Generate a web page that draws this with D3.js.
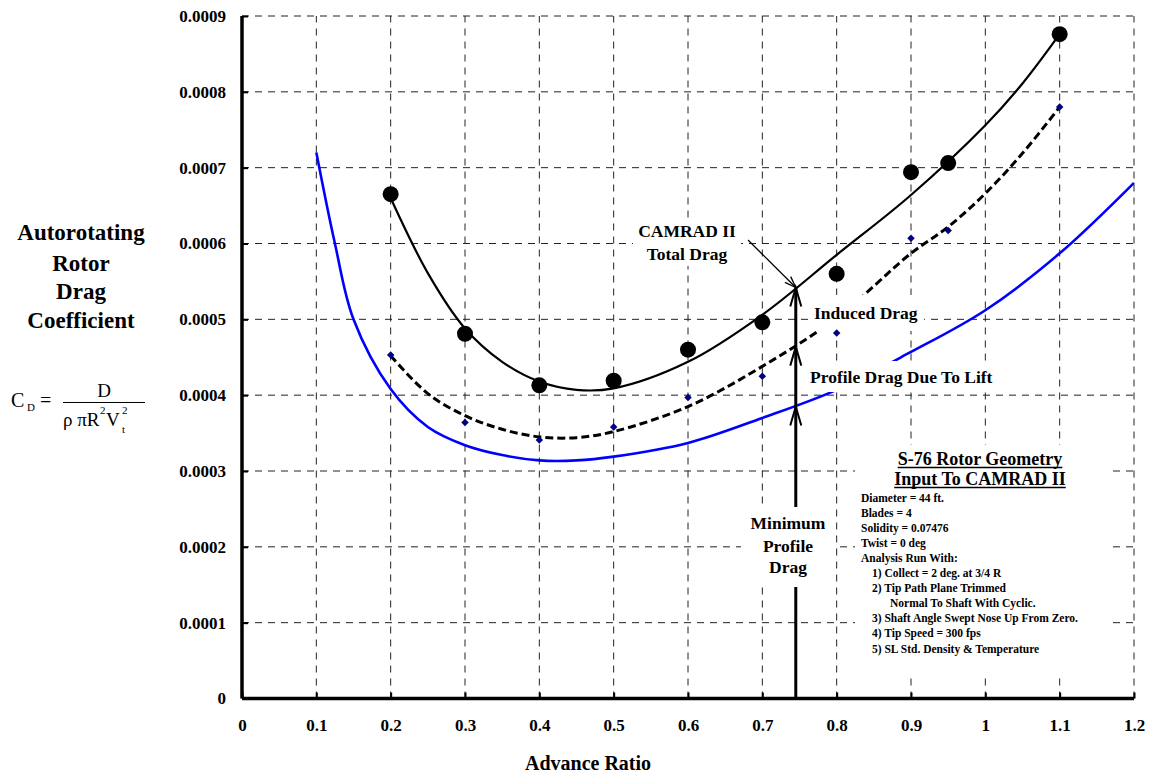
<!DOCTYPE html>
<html><head><meta charset="utf-8">
<script src="https://cdn.jsdelivr.net/npm/d3@7"></script>
<style>body{margin:0;background:#fff}svg{display:block}text{font-family:"Liberation Serif","Times New Roman",serif}</style>
</head><body><svg id="c" width="1149" height="776"></svg>
<script>
// ---- data ----
const markerMu = [0.2,0.3,0.4,0.5,0.6,0.7,0.8,0.9,0.95,1.1];
const totalDragPts = [0.000665,0.000481,0.000413,0.000419,0.00046,0.000496,0.00056,0.000694,0.000706,0.000876];
const inducedDragPts = [0.000453,0.000364,0.000341,0.000358,0.000397,0.000425,0.000482,0.000607,0.000617,0.00078];
const totalCurveMu = [0.2,0.25,0.3,0.35,0.4,0.45,0.5,0.6,0.7,0.8,0.9,1.0,1.05,1.1];
const totalCurve = [0.00066,0.000561,0.000488,0.000444,0.000418,0.000407,0.000409,0.000444,0.000506,0.000585,0.000664,0.000756,0.000811,0.000876];
const inducedCurveMu = [0.2,0.25,0.3,0.35,0.4,0.45,0.5,0.6,0.7,0.8,0.9,0.95,1.0,1.05,1.1];
const inducedCurve = [0.000452,0.000402,0.000373,0.000355,0.000345,0.000344,0.000352,0.000385,0.000438,0.000502,0.000587,0.000622,0.000666,0.000719,0.00078];
const profileCurveMu = [0.1,0.125,0.15,0.2,0.25,0.3,0.35,0.4,0.45,0.5,0.6,0.7,0.8,0.9,1.0,1.1,1.2];
const profileCurve = [0.00072,0.0006,0.0005,0.000408,0.000358,0.000334,0.000321,0.000314,0.000314,0.000319,0.000337,0.00037,0.000407,0.000457,0.000512,0.000587,0.00068];
const xTickValues = [0,0.1,0.2,0.3,0.4,0.5,0.6,0.7,0.8,0.9,1.0,1.1,1.2];
const xTickLabels = ["0","0.1","0.2","0.3","0.4","0.5","0.6","0.7","0.8","0.9","1","1.1","1.2"];
const yTickValues = [0,0.0001,0.0002,0.0003,0.0004,0.0005,0.0006,0.0007,0.0008,0.0009];
const yTickLabels = ["0","0.0001","0.0002","0.0003","0.0004","0.0005","0.0006","0.0007","0.0008","0.0009"];
const arrowMu = 0.745;
const arrowTips = [0.000542, 0.000464, 0.000385];
const yTitleLines = ["Autorotating","Rotor","Drag","Coefficient"];
const boxTitle = ["S-76 Rotor Geometry","Input To CAMRAD II"];
const boxLines = [
  ["Diameter = 44 ft.",0],["Blades = 4",0],["Solidity = 0.07476",0],["Twist = 0 deg",0],
  ["Analysis Run With:",0],["1) Collect = 2 deg. at 3/4 R",1],["2) Tip Path Plane Trimmed",1],
  ["Normal To Shaft With Cyclic.",2],["3) Shaft Angle Swept Nose Up From Zero.",1],
  ["4) Tip Speed = 300 fps",1],["5) SL Std. Density & Temperature",1]];

// ---- drawing ----
const svg = d3.select("#c");
const x = d3.scaleLinear().domain([0,1.2]).range([242,1134]);
const y = d3.scaleLinear().domain([0,0.0009]).range([698.5,16]);

// grid
const grid = svg.append("g").attr("stroke","#222").attr("stroke-width",1).attr("stroke-dasharray","7,6");
grid.selectAll("line.v").data(xTickValues.slice(1)).join("line")
  .attr("x1",d=>x(d)).attr("x2",d=>x(d)).attr("y1",y(0)).attr("y2",y(0.0009));
grid.selectAll("line.h").data(yTickValues.slice(1)).join("line")
  .attr("y1",d=>y(d)).attr("y2",d=>y(d)).attr("x1",x(0)).attr("x2",x(1.2));

// curves
const line = d3.line().x(d=>x(d[0])).y(d=>y(d[1])).curve(d3.curveCatmullRom.alpha(0.5));
svg.append("path").attr("d",line(profileCurveMu.map((m,i)=>[m,profileCurve[i]])))
  .attr("fill","none").attr("stroke","#0000ff").attr("stroke-width",2.6);
svg.append("path").attr("d",line(inducedCurveMu.map((m,i)=>[m,inducedCurve[i]])))
  .attr("fill","none").attr("stroke","#000").attr("stroke-width",3).attr("stroke-dasharray","8,4");
svg.append("path").attr("d",line(totalCurveMu.map((m,i)=>[m,totalCurve[i]])))
  .attr("fill","none").attr("stroke","#000").attr("stroke-width",2.2);

// vertical arrow
const ax = x(arrowMu);
svg.append("line").attr("x1",ax).attr("x2",ax).attr("y1",y(0)).attr("y2",y(arrowTips[0]))
  .attr("stroke","#000").attr("stroke-width",3);
arrowTips.forEach(t=>{
  const ty = y(t);
  svg.append("path").attr("d",`M${ax-5.5},${ty+19}L${ax},${ty}L${ax+5.5},${ty+19}`)
    .attr("fill","none").attr("stroke","#000").attr("stroke-width",2);
});
// CAMRAD label pointer
const tipX = ax, tipY = y(arrowTips[0]);
svg.append("line").attr("x1",748).attr("y1",240).attr("x2",tipX).attr("y2",tipY).attr("stroke","#000").attr("stroke-width",1.3);
{
  const ang = Math.atan2(tipY-240, tipX-748), L=12, w=0.35;
  const p1=[tipX-L*Math.cos(ang-w), tipY-L*Math.sin(ang-w)], p2=[tipX-L*Math.cos(ang+w), tipY-L*Math.sin(ang+w)];
  svg.append("path").attr("d",`M${p1}L${tipX},${tipY}L${p2}`).attr("fill","none").attr("stroke","#000").attr("stroke-width",1.3);
}

// white label boxes
const boxes = [[633,222,108,44],[810,295,114,36],[806,361,196,31],[741,507,93,80],[855,445,257,233]];
svg.selectAll("rect.lb").data(boxes).join("rect").attr("x",d=>d[0]).attr("y",d=>d[1]).attr("width",d=>d[2]).attr("height",d=>d[3]).attr("fill","#fff");

// in-plot labels
const lab = (t,xx,yy,anchor)=>svg.append("text").attr("x",xx).attr("y",yy).attr("text-anchor",anchor||"start")
  .attr("font-weight","bold").attr("font-size",17.5).text(t);
lab("CAMRAD II",687,237,"middle"); lab("Total Drag",687,260,"middle");
lab("Induced Drag",814,319); lab("Profile Drag Due To Lift",810,383);
lab("Minimum",788,529,"middle"); lab("Profile",788,551.5,"middle"); lab("Drag",788,573,"middle");

// text box
boxTitle.forEach((t,i)=>{
  const tx = svg.append("text").attr("x",980).attr("y",465+i*20).attr("text-anchor","middle")
    .attr("font-weight","bold").attr("font-size",18).text(t);
  const w = tx.node().getComputedTextLength();
  svg.append("line").attr("x1",980-w/2).attr("x2",980+w/2).attr("y1",467.5+i*20).attr("y2",467.5+i*20)
    .attr("stroke","#000").attr("stroke-width",1.5);
});
const bodyY = [501.7,517.3,531.7,546.7,561.7,577.3,591.7,606.7,621.7,636.7,653.3];
const indent = [861,872,890];
svg.selectAll("text.body").data(boxLines).join("text").attr("class","body")
  .attr("x",d=>indent[d[1]]).attr("y",(d,i)=>bodyY[i]).attr("font-weight","bold").attr("font-size",11.5).text(d=>d[0]);

// markers
svg.selectAll("circle.tot").data(markerMu).join("circle").attr("class","tot")
  .attr("cx",d=>x(d)).attr("cy",(d,i)=>y(totalDragPts[i])).attr("r",8).attr("fill","#000");
const sym = d3.symbol().type(d3.symbolSquare).size(28);
svg.selectAll("path.ind").data(markerMu).join("path").attr("class","ind")
  .attr("transform",(d,i)=>`translate(${x(d)},${y(inducedDragPts[i])}) rotate(45)`).attr("d",sym).attr("fill","#000080");

// axes
const xAxis = d3.axisBottom(x).tickValues(xTickValues).tickSize(-6).tickFormat((d,i)=>xTickLabels[i]).tickPadding(20);
const gx = svg.append("g").attr("transform",`translate(0,${y(0)})`).call(xAxis);
gx.select(".domain").attr("stroke-width",3.5).attr("d",`M${x(0)},0H${x(1.2)}`);
gx.selectAll(".tick line").attr("stroke-width",2);
gx.selectAll("text").attr("font-size",17).attr("font-weight","bold").attr("font-family","Liberation Serif").attr("fill","#000");
const yAxis = d3.axisLeft(y).tickValues(yTickValues).tickSize(-6).tickFormat((d,i)=>yTickLabels[i]).tickPadding(16);
const gy = svg.append("g").attr("transform",`translate(${x(0)},0)`).call(yAxis);
gy.select(".domain").attr("stroke-width",3.5).attr("d",`M0,${y(0)}V${y(0.0009)}`);
gy.selectAll(".tick line").attr("stroke-width",2);
gy.selectAll("text").attr("font-size",17).attr("font-weight","bold").attr("font-family","Liberation Serif").attr("fill","#000");

// titles
svg.append("text").attr("x",588).attr("y",770).attr("text-anchor","middle").attr("font-weight","bold").attr("font-size",20).text("Advance Ratio");
yTitleLines.forEach((t,i)=>svg.append("text").attr("x",81).attr("y",[240,271,299,328][i]).attr("text-anchor","middle")
  .attr("font-weight","bold").attr("font-size",23).text(t));

// formula
const f = (t,xx,yy,fs,anchor)=>svg.append("text").attr("x",xx).attr("y",yy).attr("font-size",fs).attr("text-anchor",anchor||"start").text(t);
f("C",11,407,20); f("D",27,411,11); f("=",40,407,20);
svg.append("line").attr("x1",63).attr("x2",145).attr("y1",402.5).attr("y2",402.5).attr("stroke","#000").attr("stroke-width",1);
f("D",104,397,19,"middle");
f("ρ πR",63,426,19); f("2",100,414,11); f("V",106,426,19); f("2",122,414,11); f("t",122,433,11);
</script></body></html>
